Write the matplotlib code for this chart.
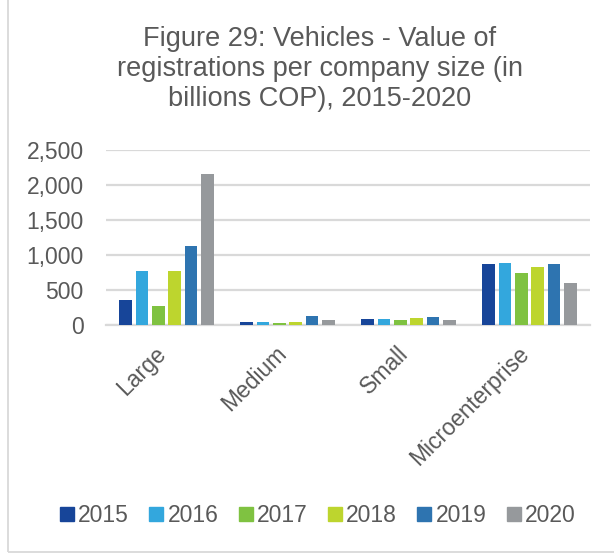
import matplotlib
matplotlib.use("Agg")
import matplotlib.pyplot as plt
import matplotlib.transforms as mtransforms
import numpy as np
from matplotlib.patches import Rectangle
from matplotlib.lines import Line2D

plt.rcParams['font.family'] = ['Liberation Sans', 'DejaVu Sans']

categories = ["Large", "Medium", "Small", "Microenterprise"]
years = ["2015", "2016", "2017", "2018", "2019", "2020"]
v2015 = [362, 43, 95, 881]
v2016 = [776, 43, 95, 891]
v2017 = [276, 35, 76, 744]
v2018 = [776, 45, 104, 829]
v2019 = [1130, 137, 123, 877]
v2020 = [2168, 76, 76, 605]
series = [v2015, v2016, v2017, v2018, v2019, v2020]
colors = ["#174599", "#33a7dd", "#7fc241", "#bdd52e", "#2e74b0", "#96999c"]
yticks = [0, 500, 1000, 1500, 2000, 2500]

text_color = "#595959"
grid_color = "#d9d9d9"

fig = plt.figure(figsize=(6.14, 5.56), dpi=100)
ax = fig.add_axes([0.1726, 0.415, 0.7884, 0.3147])

x = np.arange(len(categories))
slot = 0.135
bar_w = 0.105
for i, (vals, c) in enumerate(zip(series, colors)):
    offs = (i - (len(series) - 1) / 2) * slot
    ax.bar(x + offs, vals, width=bar_w, color=c, zorder=3, label=years[i])

ax.set_xlim(-0.5, len(categories) - 0.5)
ax.set_ylim(0, 2500)
ax.set_yticks(yticks)
ax.set_yticklabels([f"{t:,}" for t in yticks])
ax.yaxis.grid(True, color=grid_color, linewidth=1.6, zorder=0)
ax.set_axisbelow(True)
for s in ["top", "right", "left"]:
    ax.spines[s].set_visible(False)
ax.spines["bottom"].set_color(grid_color)
ax.spines["bottom"].set_linewidth(1.6)
ax.tick_params(axis="y", length=0, pad=16, labelsize=16.5, labelcolor=text_color)
ax.tick_params(axis="x", length=0, pad=12, labelsize=16.5, labelcolor=text_color)
ax.set_xticks(x)
ax.set_xticklabels(categories, rotation=45, ha="right", va="top")
shift = mtransforms.ScaledTranslation(3 / 72, 0, fig.dpi_scale_trans)
for lbl in ax.get_xticklabels():
    lbl.set_transform(lbl.get_transform() + shift)

fig.text(0.521, 0.876,
         "Figure 29: Vehicles - Value of\nregistrations per company size (in\nbillions COP), 2015-2020",
         ha="center", va="center", fontsize=19.5, color=text_color, linespacing=1.2)

handles = [Line2D([0], [0], marker="s", linestyle="none", markersize=9.5,
                  markerfacecolor=c, markeredgecolor=c) for c in colors]
fig.legend(handles, years, loc="center", bbox_to_anchor=(0.515, 0.072), ncol=6,
           frameon=False, fontsize=16.5, labelcolor=text_color,
           handletextpad=0.05, columnspacing=0.73, handlelength=0.9)

# chart frame (left, top and bottom edges visible)
fig.patches.append(Rectangle((8 / 614, 4 / 556), 1.02, 1.0, transform=fig.transFigure,
                             fill=False, edgecolor="#d9d9d9", linewidth=1.3, clip_on=False))

fig.savefig("out.png", dpi=100, facecolor="white")
